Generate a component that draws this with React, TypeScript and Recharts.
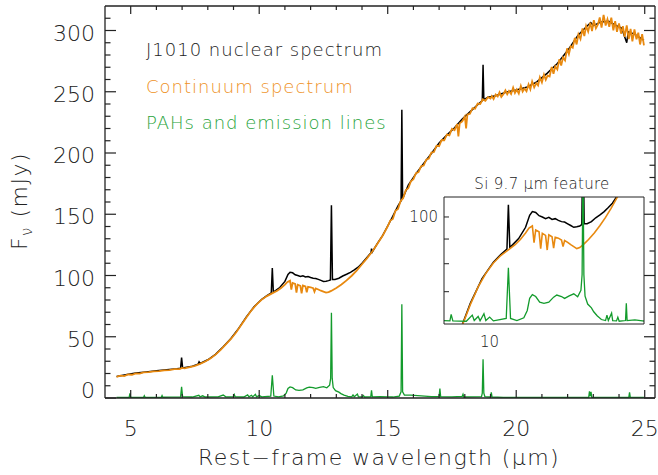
import { LineChart, Line, XAxis, YAxis } from 'recharts';

type Pt = [number, number];

// J1010 nuclear spectrum: rest wavelength (µm), F_nu (mJy)
const nuclear: Pt[] = [
  [4.45, 17.6], [4.8, 18.9], [5.2, 20.4], [5.6, 21.3], [6.0, 22.2], [6.4, 23.0], [6.8, 23.8],
  [6.94, 24.2], [6.98, 33.0], [7.02, 24.6], [7.4, 26.0], [7.62, 27.6], [7.66, 29.5], [7.7, 28.2],
  [8.0, 31.2], [8.3, 35.6], [8.6, 41.8], [8.9, 48.6], [9.2, 56.8], [9.5, 66.2], [9.8, 74.5],
  [10.1, 80.6], [10.3, 83.6], [10.47, 85.8], [10.51, 106.0], [10.55, 86.4], [10.8, 90.2],
  [11.0, 95.2], [11.12, 100.8], [11.2, 102.6], [11.3, 102.2], [11.4, 100.6], [11.5, 100.0],
  [11.6, 99.2], [11.7, 99.8], [11.8, 98.8], [11.9, 99.2], [12.0, 98.4], [12.1, 97.8], [12.2, 97.6],
  [12.3, 96.8], [12.4, 96.0], [12.5, 95.2], [12.6, 95.4], [12.7, 95.8], [12.77, 96.4],
  [12.81, 157.4], [12.85, 96.8], [12.95, 96.8], [13.1, 97.8], [13.25, 99.6], [13.4, 101.0],
  [13.55, 102.6], [13.7, 104.6], [13.85, 106.8], [14.0, 110.0], [14.2, 115.0], [14.35, 118.6],
  [14.37, 122.0], [14.4, 119.2], [14.6, 126.2], [14.8, 132.6], [15.0, 140.4], [15.2, 148.4],
  [15.4, 156.8], [15.52, 161.0], [15.55, 235.3], [15.58, 162.6], [15.8, 173.8], [16.1, 183.2],
  [16.4, 191.4], [16.7, 199.6], [17.0, 208.2], [17.3, 214.6], [17.6, 220.6], [17.9, 227.8],
  [18.2, 233.6], [18.5, 239.4], [18.68, 242.8], [18.71, 272.0], [18.74, 243.6], [18.9, 245.6],
  [19.2, 246.8], [19.6, 249.6], [20.0, 251.4], [20.4, 253.6], [20.8, 258.0], [21.2, 265.0],
  [21.6, 273.0], [22.0, 283.6], [22.4, 296.0], [22.7, 302.4], [22.9, 306.5], [23.0, 304.0],
  [23.3, 307.0], [23.6, 307.5], [23.9, 304.0], [24.1, 302.0], [24.3, 290.0], [24.36, 299.0],
  [24.6, 297.0], [24.97, 292.0],
];

// fitted continuum
const continuum: Pt[] = [
  [4.45, 17.3], [4.6, 18.2], [4.75, 17.9], [4.9, 19.2], [5.05, 19.0], [5.2, 20.1], [5.35, 19.9],
  [5.5, 20.9], [5.7, 21.2], [5.9, 21.8], [6.1, 22.0], [6.3, 22.6], [6.5, 22.8], [6.7, 23.5],
  [6.9, 23.6], [7.0, 24.6], [7.1, 24.2], [7.3, 25.3], [7.5, 26.3], [7.7, 27.9], [7.9, 29.8],
  [8.1, 32.2], [8.3, 35.4], [8.5, 39.3], [8.7, 43.8], [8.9, 48.2], [9.1, 53.4], [9.3, 59.6],
  [9.5, 65.8], [9.7, 71.6], [9.9, 76.4], [10.1, 80.3], [10.3, 83.2], [10.5, 85.4], [10.7, 87.6],
  [10.85, 89.8], [11.0, 92.6], [11.1, 94.8], [11.2, 95.8], [11.25, 88.5], [11.3, 94.0],
  [11.4, 93.2], [11.45, 86.0], [11.5, 92.5], [11.6, 91.6], [11.65, 85.4], [11.7, 91.8],
  [11.8, 91.0], [11.85, 86.2], [11.9, 90.8], [12.0, 90.4], [12.1, 89.6], [12.15, 86.8],
  [12.2, 89.4], [12.3, 88.6], [12.4, 87.6], [12.5, 86.8], [12.6, 86.0], [12.7, 86.4],
  [12.8, 87.4], [12.9, 88.6], [13.0, 89.8], [13.2, 92.6], [13.4, 96.0], [13.6, 99.8],
  [13.8, 104.2], [14.0, 109.2], [14.2, 114.2], [14.4, 119.6], [14.6, 126.0], [14.8, 132.4],
  [15.0, 140.2], [15.1, 144.8], [15.2, 146.2], [15.3, 152.8], [15.4, 154.4], [15.5, 160.6],
  [15.6, 163.0], [15.7, 169.5], [15.8, 171.2], [15.9, 176.8], [16.0, 178.6], [16.1, 183.6],
  [16.2, 184.4], [16.3, 189.2], [16.4, 189.8], [16.5, 194.5], [16.6, 195.4], [16.7, 200.4],
  [16.8, 200.8], [16.9, 206.0], [17.0, 205.6], [17.1, 210.6], [17.2, 210.4], [17.3, 215.0],
  [17.4, 214.4], [17.5, 219.8], [17.6, 218.6], [17.7, 223.6], [17.75, 213.5], [17.8, 224.2],
  [17.9, 225.8], [18.0, 229.8], [18.05, 220.0], [18.1, 231.4], [18.2, 232.0], [18.3, 236.6],
  [18.4, 236.2], [18.5, 240.4], [18.6, 240.0], [18.7, 243.8], [18.8, 242.6], [18.9, 245.6],
  [19.0, 244.4], [19.05, 246.5], [19.12, 244.0], [19.2, 247.8], [19.28, 246.2], [19.35, 249.5],
  [19.42, 245.8], [19.5, 248.0], [19.58, 251.2], [19.65, 247.9], [19.72, 250.6], [19.8, 248.2],
  [19.88, 253.4], [19.95, 249.0], [20.02, 251.8], [20.1, 248.6], [20.18, 254.8], [20.25, 250.2],
  [20.32, 252.6], [20.4, 250.4], [20.48, 256.0], [20.55, 252.0], [20.62, 258.4], [20.7, 253.6],
  [20.78, 257.0], [20.85, 255.2], [20.92, 261.8], [21.0, 257.6], [21.08, 264.0], [21.15, 259.8],
  [21.22, 263.2], [21.3, 262.4], [21.38, 270.2], [21.45, 264.6], [21.52, 270.8], [21.6, 268.2],
  [21.68, 276.6], [21.75, 271.4], [21.82, 278.0], [21.9, 275.6], [21.98, 285.4], [22.05, 280.8],
  [22.12, 287.2], [22.2, 286.0], [22.28, 294.0], [22.35, 288.6], [22.42, 296.8], [22.5, 293.0],
  [22.58, 301.6], [22.65, 295.4], [22.72, 303.8], [22.8, 299.2], [22.88, 306.4], [22.95, 299.6],
  [23.02, 308.4], [23.1, 301.8], [23.18, 305.0], [23.25, 310.6], [23.32, 302.4], [23.4, 312.8],
  [23.48, 304.0], [23.55, 309.2], [23.62, 303.0], [23.7, 310.4], [23.78, 300.2], [23.85, 307.6],
  [23.92, 299.0], [24.0, 305.8], [24.08, 297.4], [24.15, 303.6], [24.22, 294.8], [24.3, 304.2],
  [24.38, 293.0], [24.45, 301.4], [24.52, 291.2], [24.6, 300.8], [24.68, 292.8], [24.75, 298.2],
  [24.82, 288.6], [24.9, 297.0], [24.97, 287.8],
];

// PAH features and fine-structure lines
const pahLines: Pt[] = [
  [4.45, 0.4], [4.94, 0.5], [4.97, 3.8], [5.0, 0.5], [5.5, 0.5], [5.53, 1.8], [5.56, 0.5],
  [6.19, 0.6], [6.22, 2.0], [6.25, 0.6], [6.6, 0.7], [6.94, 0.8], [6.98, 9.2], [7.02, 0.9],
  [7.4, 0.8], [7.65, 2.2], [7.7, 1.0], [7.8, 1.8], [7.9, 0.8], [8.4, 0.9], [8.6, 2.4], [8.7, 1.0],
  [9.0, 0.9], [9.03, 2.8], [9.07, 0.9], [9.4, 0.8], [9.55, 2.6], [9.6, 1.0], [9.7, 2.2],
  [9.75, 0.9], [9.85, 3.0], [9.9, 1.0], [10.0, 2.0], [10.1, 0.9], [10.45, 1.6], [10.51, 18.5],
  [10.57, 1.6], [10.75, 1.0], [10.95, 1.8], [11.05, 4.0], [11.12, 7.8], [11.2, 9.0], [11.3, 8.4],
  [11.42, 6.6], [11.55, 6.2], [11.7, 6.6], [11.85, 8.2], [11.95, 8.9], [12.1, 8.4], [12.2, 7.8],
  [12.35, 8.6], [12.5, 9.3], [12.63, 8.3], [12.74, 10.5], [12.78, 16.0], [12.81, 69.5],
  [12.84, 16.0], [12.88, 8.5], [12.97, 6.0], [13.1, 4.8], [13.18, 3.6], [13.3, 2.4], [13.45, 1.3],
  [13.6, 1.0], [13.65, 2.6], [13.7, 1.0], [13.82, 3.2], [13.86, 1.0], [14.0, 0.9], [14.05, 2.0],
  [14.1, 0.8], [14.34, 1.0], [14.37, 6.2], [14.4, 1.0], [14.7, 1.2], [15.0, 0.9], [15.2, 0.8],
  [15.45, 1.6], [15.52, 5.0], [15.55, 76.6], [15.58, 5.0], [15.65, 2.4], [15.9, 2.4], [16.3, 1.8],
  [16.7, 1.2], [17.0, 1.2], [17.03, 7.7], [17.06, 1.2], [17.5, 1.0], [17.9, 1.4], [17.93, 3.0],
  [17.96, 0.8], [18.65, 1.2], [18.68, 4.0], [18.71, 31.6], [18.74, 4.0], [18.78, 1.2], [19.0, 0.8],
  [19.03, 4.6], [19.06, 0.8], [19.5, 0.5], [20.5, 0.4], [21.5, 0.4], [22.82, 0.4], [22.85, 5.5],
  [22.88, 1.5], [22.91, 5.0], [22.94, 0.4], [24.38, 0.4], [24.41, 4.6], [24.44, 0.4], [24.97, 0.4],
];

const xTicks = [5, 6, 7, 8, 9, 10, 11, 12, 13, 14, 15, 16, 17, 18, 19, 20, 21, 22, 23, 24, 25];
const xLabels = [5, 10, 15, 20, 25];
const yTicks = [0, 10, 20, 30, 40, 50, 60, 70, 80, 90, 100, 110, 120, 130, 140, 150, 160, 170,
  180, 190, 200, 210, 220, 230, 240, 250, 260, 270, 280, 290, 300, 310];
const yLabels = [0, 50, 100, 150, 200, 250, 300];

// zoom panel around the silicate feature (log-log)
const insetXTicks = [10];
const insetYTicks = [70, 80, 90, 100];
const insetYLabels = [100];
const PAH_LIFT = 60; // PAH curve shifted up onto the log flux axis

const legend = [
  { text: 'J1010 nuclear spectrum', color: '#222' },
  { text: 'Continuum spectrum', color: '#EE9125' },
  { text: 'PAHs and emission lines', color: '#27A33A' },
];

const BLACK = '#000';
const ORANGE = '#E8890F';
const GREEN = '#139B2C';
const INK = '#222';
const FONT = 'DejaVu Sans';

const rows = (pts: Pt[]) => pts.map(([w, f]) => ({ w, f }));
const insetRows = (pts: Pt[], lift = 0) =>
  pts.filter(([w]) => w >= 8.2 && w <= 15.5).map(([w, f]) => ({ w, f: f + lift }));

const BottomTick = (p: any) => {
  const v = p.payload.value;
  const major = xLabels.includes(v);
  return (
    <g>
      <line x1={p.x} x2={p.x} y1={p.y} y2={p.y - (major ? 8 : 4)} stroke={INK} strokeWidth={1.2} />
      {major && (
        <text x={p.x} y={p.y + 38} textAnchor="middle" fontFamily={FONT} fontWeight={300} fontSize={22} fill={INK}>
          {v}
        </text>
      )}
    </g>
  );
};

const TopTick = (p: any) => {
  const major = xLabels.includes(p.payload.value);
  return <line x1={p.x} x2={p.x} y1={p.y} y2={p.y + (major ? 8 : 4)} stroke={INK} strokeWidth={1.2} />;
};

const LeftTick = (p: any) => {
  const v = p.payload.value;
  const major = yLabels.includes(v);
  return (
    <g>
      <line x1={p.x} x2={p.x + (major ? 11 : 5.5)} y1={p.y} y2={p.y} stroke={INK} strokeWidth={1.2} />
      {major && (
        <text x={p.x - 10} y={p.y + (v === 0 ? 0 : 10)} textAnchor="end" fontFamily={FONT} fontWeight={300} fontSize={22} fill={INK}>
          {v}
        </text>
      )}
    </g>
  );
};

const RightTick = (p: any) => {
  const major = yLabels.includes(p.payload.value);
  return <line x1={p.x} x2={p.x - (major ? 11 : 5.5)} y1={p.y} y2={p.y} stroke={INK} strokeWidth={1.2} />;
};

const InsetLeftTick = (p: any) => {
  const v = p.payload.value;
  return (
    <g>
      <line x1={p.x} x2={p.x + 5} y1={p.y} y2={p.y} stroke={INK} />
      {insetYLabels.includes(v) && (
        <text x={p.x - 6} y={p.y + 5.5} textAnchor="end" fontFamily={FONT} fontWeight={300} fontSize={15} fill={INK}>
          {v}
        </text>
      )}
    </g>
  );
};

const InsetBottomTick = (p: any) => (
  <text x={p.x} y={p.y + 23} textAnchor="middle" fontFamily={FONT} fontWeight={300} fontSize={15} fill={INK}>
    {p.payload.value}
  </text>
);

export default function App() {
  const mainX = [4, 25.4];
  const mainY = [0, 320];
  const insetX = [8.86, 15.06];
  const insetY = [60, 110];

  return (
    <div style={{ position: 'absolute', left: 0, top: 0, width: 658, height: 475, background: '#fff', overflow: 'hidden' }}>
      <LineChart width={658} height={475} margin={{ top: 0, right: 0, bottom: 0, left: 0 }}>
        <XAxis dataKey="w" type="number" domain={mainX} allowDataOverflow ticks={xTicks} interval={0}
          height={77} tickSize={0} tickMargin={0} tickLine={false} tick={BottomTick} stroke={INK} strokeWidth={1.3} />
        <XAxis xAxisId="top" orientation="top" dataKey="w" type="number" domain={mainX} allowDataOverflow
          ticks={xTicks} interval={0} height={6} tickSize={0} tickMargin={0} tickLine={false} tick={TopTick}
          stroke={INK} strokeWidth={1.3} />
        <YAxis type="number" domain={mainY} allowDataOverflow ticks={yTicks} interval={0} width={105}
          tickSize={0} tickMargin={0} tickLine={false} tick={LeftTick} stroke={INK} strokeWidth={1.3} />
        <YAxis yAxisId="right" orientation="right" type="number" domain={mainY} allowDataOverflow ticks={yTicks}
          interval={0} width={3} tickSize={0} tickMargin={0} tickLine={false} tick={RightTick} stroke={INK}
          strokeWidth={1.3} />
        <Line data={rows(nuclear)} dataKey="f" type="linear" stroke={BLACK} strokeWidth={1.5} dot={false} isAnimationActive={false} />
        <Line data={rows(continuum)} dataKey="f" type="linear" stroke={ORANGE} strokeWidth={1.8} dot={false} isAnimationActive={false} />
        <Line data={rows(pahLines)} dataKey="f" type="linear" stroke={GREEN} strokeWidth={1.3} dot={false} isAnimationActive={false} />
      </LineChart>

      <div style={{ position: 'absolute', left: 404, top: 170 }}>
        <LineChart width={244} height={184} margin={{ top: 26, right: 3, bottom: 0, left: 0 }}>
          <XAxis dataKey="w" type="number" scale="log" domain={insetX} allowDataOverflow ticks={insetXTicks}
            interval={0} height={30} tickSize={0} tickMargin={0} tickLine={false} tick={InsetBottomTick} stroke={INK} />
          <XAxis xAxisId="t" orientation="top" dataKey="w" type="number" scale="log" domain={insetX}
            allowDataOverflow height={1} tick={false} tickLine={false} stroke={INK} />
          <YAxis type="number" scale="log" domain={insetY} allowDataOverflow ticks={insetYTicks} interval={0}
            width={40} tickSize={0} tickMargin={0} tickLine={false} tick={InsetLeftTick} stroke={INK} />
          <YAxis yAxisId="r" orientation="right" type="number" scale="log" domain={insetY} allowDataOverflow
            width={1} tick={false} tickLine={false} stroke={INK} />
          <Line data={insetRows(nuclear)} dataKey="f" type="linear" stroke={BLACK} strokeWidth={1.5} dot={false} isAnimationActive={false} />
          <Line data={insetRows(continuum)} dataKey="f" type="linear" stroke={ORANGE} strokeWidth={1.6} dot={false} isAnimationActive={false} />
          <Line data={insetRows(pahLines, PAH_LIFT)} dataKey="f" type="linear" stroke={GREEN} strokeWidth={1.3} dot={false} isAnimationActive={false} />
        </LineChart>
      </div>

      <svg width={658} height={475} style={{ position: 'absolute', left: 0, top: 0, pointerEvents: 'none' }}>
        {legend.map((item, i) => (
          <text key={item.text} x={146} y={56 + i * 36.7} fontFamily={FONT} fontWeight={300} fontSize={18}
            letterSpacing={1} fill={item.color}>
            {item.text}
          </text>
        ))}
        <text transform="translate(27,201) rotate(-90)" textAnchor="middle" fontFamily={FONT} fontWeight={300}
          fontSize={22} letterSpacing={1.5} fill={INK}>
          F<tspan dy={5} fontSize={15}>ν</tspan>
          <tspan dy={-5}> (mJy)</tspan>
        </text>
        <text x={379} y={465} textAnchor="middle" fontFamily={FONT} fontWeight={300} fontSize={22}
          letterSpacing={1.4} fill={INK}>
          Rest−frame wavelength (µm)
        </text>
        <text x={542} y={188.5} textAnchor="middle" fontFamily={FONT} fontWeight={300} fontSize={15}
          letterSpacing={0.3} fill={INK}>
          Si 9.7 µm feature
        </text>
      </svg>
    </div>
  );
}
